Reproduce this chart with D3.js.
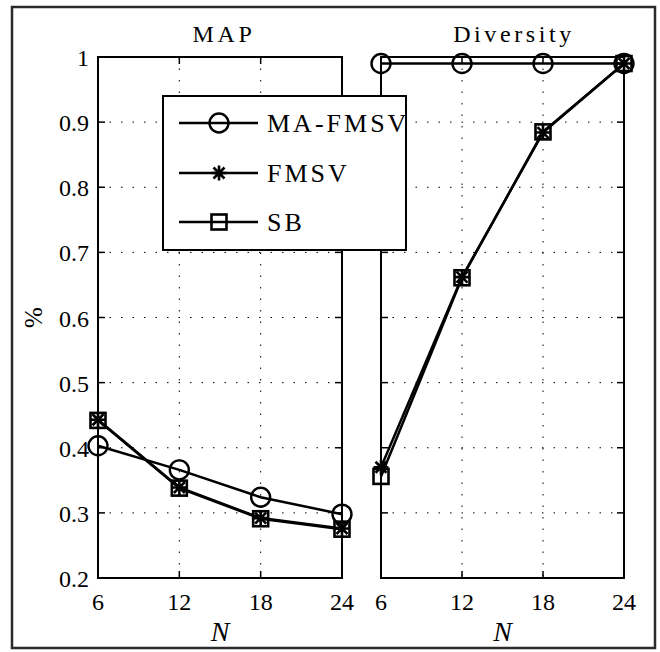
<!DOCTYPE html>
<meta charset="utf-8">

<body style="margin:0;background:#fff">
  <style>
    svg text {
      font-family: "Liberation Serif", "Times New Roman", Times, "DejaVu Serif", serif;
      fill: #000;
    }
  </style>
  <div id="chart"></div>
  <script src="https://d3js.org/d3.v7.min.js"></script>
  <script>
    // values
    var nValues = [6, 12, 18, 24];
    var yTicks = [0.2, 0.3, 0.4, 0.5, 0.6, 0.7, 0.8, 0.9, 1];
    var seriesNames = ["MA-FMSV", "FMSV", "SB"];
    var panelTitles = ["MAP", "Diversity"];

    var mapMaFmsv = [0.403, 0.366, 0.324, 0.298];
    var mapFmsv = [0.443, 0.339, 0.292, 0.276];
    var mapSb = [0.442, 0.338, 0.291, 0.275];

    var divMaFmsv = [0.99, 0.99, 0.99, 0.99];
    var divFmsv = [0.370, 0.662, 0.884, 0.99];
    var divSb = [0.356, 0.661, 0.885, 0.99];

    var width = 660,
      height = 652;
    var plotTop = 57,
      plotBottom = 578;
    var panelX = [[98, 342], [381, 624]];
    var markers = ["circle", "star", "square"];

    var svg = d3.select("#chart")
      .append("svg")
      .attr("width", width)
      .attr("height", height);

    // outer frame
    svg.append("rect")
      .attr("x", 12)
      .attr("y", 7)
      .attr("width", 643)
      .attr("height", 641)
      .style("fill", "#fff")
      .style("stroke", "#2a2a2a")
      .style("stroke-width", 2.5);

    var y = d3.scaleLinear()
      .domain([0.2, 1])
      .range([plotBottom, plotTop]);

    function drawMarker(g, type, cx, cy) {
      if (type == "circle") {
        g.append("circle")
          .attr("cx", cx).attr("cy", cy).attr("r", 9.5)
          .style("fill", "none").style("stroke", "#000").style("stroke-width", 2.4);
      } else if (type == "square") {
        g.append("rect")
          .attr("x", cx - 7.5).attr("y", cy - 7.5)
          .attr("width", 15).attr("height", 15)
          .style("fill", "none").style("stroke", "#000").style("stroke-width", 2.6);
      } else {
        var s = 7.5, d = 5.5;
        g.append("path")
          .attr("d", "M" + (cx - s) + "," + cy + "H" + (cx + s) +
            "M" + cx + "," + (cy - s) + "V" + (cy + s) +
            "M" + (cx - d) + "," + (cy - d) + "L" + (cx + d) + "," + (cy + d) +
            "M" + (cx - d) + "," + (cy + d) + "L" + (cx + d) + "," + (cy - d))
          .style("fill", "none").style("stroke", "#000").style("stroke-width", 2.6);
      }
    }

    function drawPanel(i, series) {
      var x = d3.scaleLinear()
        .domain([6, 24])
        .range(panelX[i]);
      var g = svg.append("g");

      // dotted grid
      g.selectAll(".gx")
        .data(nValues.slice(1, -1))
        .enter().append("line")
        .attr("x1", function(d) { return x(d); })
        .attr("x2", function(d) { return x(d); })
        .attr("y1", plotTop).attr("y2", plotBottom)
        .style("stroke", "#000").style("stroke-width", 1)
        .style("stroke-dasharray", "1.5,10");
      g.selectAll(".gy")
        .data(yTicks.slice(1, -1))
        .enter().append("line")
        .attr("x1", panelX[i][0]).attr("x2", panelX[i][1])
        .attr("y1", function(d) { return y(d); })
        .attr("y2", function(d) { return y(d); })
        .style("stroke", "#000").style("stroke-width", 1)
        .style("stroke-dasharray", "1.5,10");

      // inside ticks on all four sides
      var tk = 7;
      yTicks.forEach(function(v) {
        g.append("line").attr("x1", panelX[i][0]).attr("x2", panelX[i][0] + tk)
          .attr("y1", y(v)).attr("y2", y(v)).style("stroke", "#000").style("stroke-width", 1.5);
        g.append("line").attr("x1", panelX[i][1]).attr("x2", panelX[i][1] - tk)
          .attr("y1", y(v)).attr("y2", y(v)).style("stroke", "#000").style("stroke-width", 1.5);
      });
      nValues.forEach(function(v) {
        g.append("line").attr("x1", x(v)).attr("x2", x(v))
          .attr("y1", plotBottom).attr("y2", plotBottom - tk).style("stroke", "#000").style("stroke-width", 1.5);
        g.append("line").attr("x1", x(v)).attr("x2", x(v))
          .attr("y1", plotTop).attr("y2", plotTop + tk).style("stroke", "#000").style("stroke-width", 1.5);
      });

      // axes box
      g.append("rect")
        .attr("x", panelX[i][0]).attr("y", plotTop)
        .attr("width", panelX[i][1] - panelX[i][0])
        .attr("height", plotBottom - plotTop)
        .style("fill", "none").style("stroke", "#000").style("stroke-width", 2);

      // x tick labels
      g.selectAll(".xl")
        .data(nValues)
        .enter().append("text")
        .attr("x", function(d) { return x(d); })
        .attr("y", 610)
        .style("text-anchor", "middle")
        .style("font-size", "24px")
        .text(function(d) { return d; });

      // x label
      g.append("text")
        .attr("x", (panelX[i][0] + panelX[i][1]) / 2)
        .attr("y", 641)
        .style("text-anchor", "middle")
        .style("font-size", "28px")
        .style("font-style", "italic")
        .text("N");

      // title
      g.append("text")
        .attr("x", i == 0 ? 224 : 514)
        .attr("y", 42)
        .style("text-anchor", "middle")
        .style("font-size", "24px")
        .style("letter-spacing", "3.6px")
        .text(panelTitles[i]);

      // series
      var line = d3.line()
        .x(function(d, j) { return x(nValues[j]); })
        .y(function(d) { return y(d); });
      series.forEach(function(s, k) {
        g.append("path")
          .datum(s)
          .attr("d", line)
          .style("fill", "none")
          .style("stroke", "#000")
          .style("stroke-width", 2.5);
        s.forEach(function(v, j) {
          drawMarker(g, markers[k], x(nValues[j]), y(v));
        });
      });
    }

    drawPanel(0, [mapMaFmsv, mapFmsv, mapSb]);
    drawPanel(1, [divMaFmsv, divFmsv, divSb]);

    // y tick labels (left panel only)
    svg.selectAll(".yl")
      .data(yTicks)
      .enter().append("text")
      .attr("x", 89)
      .attr("y", function(d) { return y(d) + 9; })
      .style("text-anchor", "end")
      .style("font-size", "24px")
      .text(function(d) { return d; });

    // y label
    svg.append("text")
      .attr("transform", "translate(42," + ((plotTop + plotBottom) / 2) + ") rotate(-90)")
      .style("text-anchor", "middle")
      .style("font-size", "25px")
      .text("%");

    // legend
    var lg = svg.append("g");
    lg.append("rect")
      .attr("x", 163).attr("y", 96)
      .attr("width", 243).attr("height", 154)
      .style("fill", "#fff").style("stroke", "#000").style("stroke-width", 2);
    var legendY = [123, 173, 222];
    seriesNames.forEach(function(name, k) {
      lg.append("line")
        .attr("x1", 179).attr("x2", 258)
        .attr("y1", legendY[k]).attr("y2", legendY[k])
        .style("stroke", "#000").style("stroke-width", 2.5);
      drawMarker(lg, markers[k], 219, legendY[k]);
      lg.append("text")
        .attr("x", 267)
        .attr("y", legendY[k] + 9)
        .style("font-size", "26px")
        .style("letter-spacing", "3px")
        .text(name);
    });
  </script>
</body>
